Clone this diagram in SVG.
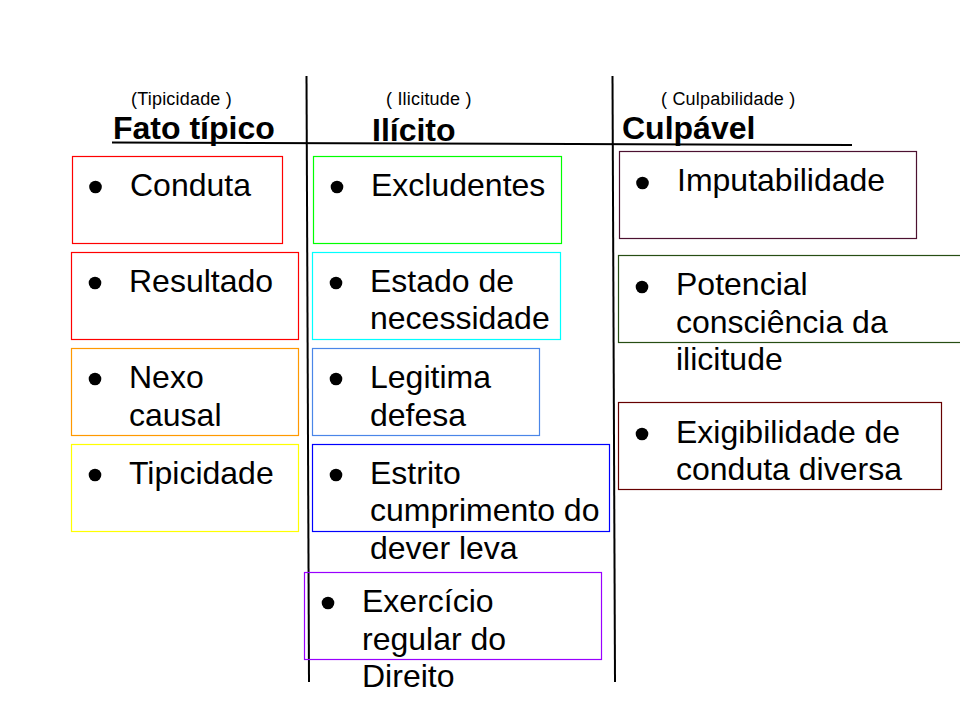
<svg xmlns="http://www.w3.org/2000/svg" width="960" height="720" viewBox="0 0 960 720">
<style>
.box{fill:none;stroke-width:1.2}
.t{font-family:"Liberation Sans",Arial,sans-serif;font-size:32px;fill:#000}
.h{font-family:"Liberation Sans",Arial,sans-serif;font-size:32px;font-weight:bold;fill:#000}
.s{font-family:"Liberation Sans",Arial,sans-serif;font-size:18px;letter-spacing:0.2px;fill:#000}
.b{fill:#000}
.ln{stroke:#000;stroke-width:2;fill:none}
</style>
<rect width="960" height="720" fill="#fff"/>
<g id="connectors">
<line class="ln" x1="306.5" y1="76" x2="309" y2="682"/>
<line class="ln" x1="612.5" y1="76" x2="615" y2="682"/>
<line class="ln" x1="112" y1="142.5" x2="852" y2="145"/>
</g>
<g id="header-fato">
<text class="s" x="131" y="105" xml:space="preserve">(Tipicidade )</text>
<text class="h" x="113" y="139">Fato típico</text>
</g>
<g id="header-ilicito">
<text class="s" x="386" y="105" xml:space="preserve">( Ilicitude )</text>
<text class="h" x="372" y="141">Ilícito</text>
</g>
<g id="header-culpavel">
<text class="s" x="661" y="105" xml:space="preserve">( Culpabilidade )</text>
<text class="h" x="622" y="139">Culpável</text>
</g>
<g id="conduta">
<rect class="box" x="72.5" y="156.5" width="210" height="87" stroke="#ff0000"/>
<circle class="b" cx="95.5" cy="187" r="6.3"/>
<text class="t" x="130" y="196">Conduta</text>
</g>
<g id="resultado">
<rect class="box" x="71.5" y="252.5" width="227" height="87" stroke="#ff0000"/>
<circle class="b" cx="95" cy="283" r="6.3"/>
<text class="t" x="129" y="292">Resultado</text>
</g>
<g id="nexo">
<rect class="box" x="71.5" y="348.5" width="227" height="87" stroke="#ff9900"/>
<circle class="b" cx="95" cy="379" r="6.3"/>
<text class="t" x="129" y="388">Nexo</text>
<text class="t" x="129" y="426">causal</text>
</g>
<g id="tipicidade">
<rect class="box" x="71.5" y="444.5" width="227" height="87" stroke="#ffff00"/>
<circle class="b" cx="95" cy="475" r="6.3"/>
<text class="t" x="129" y="484">Tipicidade</text>
</g>
<g id="excludentes">
<rect class="box" x="313.5" y="156.5" width="248" height="87" stroke="#00ff00"/>
<circle class="b" cx="337" cy="187" r="6.3"/>
<text class="t" x="371" y="196">Excludentes</text>
</g>
<g id="estado">
<rect class="box" x="312.5" y="252.5" width="248" height="87" stroke="#00ffff"/>
<circle class="b" cx="336" cy="283" r="6.3"/>
<text class="t" x="370" y="292">Estado de</text>
<text class="t" x="370" y="329">necessidade</text>
</g>
<g id="legitima">
<rect class="box" x="312.5" y="348.5" width="227" height="87" stroke="#4a86e8"/>
<circle class="b" cx="336" cy="379" r="6.3"/>
<text class="t" x="370" y="388">Legitima</text>
<text class="t" x="370" y="426">defesa</text>
</g>
<g id="estrito">
<rect class="box" x="312.5" y="444.5" width="297" height="87" stroke="#0000ff"/>
<circle class="b" cx="336" cy="475" r="6.3"/>
<text class="t" x="370" y="484">Estrito</text>
<text class="t" x="370" y="521">cumprimento do</text>
<text class="t" x="370" y="559">dever leva</text>
</g>
<g id="exercicio">
<rect class="box" x="304.5" y="572.5" width="297" height="87" stroke="#9900ff"/>
<circle class="b" cx="328" cy="603" r="6.3"/>
<text class="t" x="362" y="612">Exercício</text>
<text class="t" x="362" y="650">regular do</text>
<text class="t" x="362" y="687">Direito</text>
</g>
<g id="imputabilidade">
<rect class="box" x="619.5" y="151.5" width="297" height="87" stroke="#4c1130"/>
<circle class="b" cx="642.5" cy="183" r="6.3"/>
<text class="t" x="677" y="191">Imputabilidade</text>
</g>
<g id="potencial">
<rect class="box" x="618.5" y="255.5" width="360" height="87" stroke="#274e13"/>
<circle class="b" cx="642" cy="287" r="6.3"/>
<text class="t" x="676" y="295">Potencial</text>
<text class="t" x="676" y="333">consciência da</text>
<text class="t" x="676" y="370">ilicitude</text>
</g>
<g id="exigibilidade">
<rect class="box" x="618.5" y="402.5" width="323" height="87" stroke="#660000"/>
<circle class="b" cx="642" cy="434" r="6.3"/>
<text class="t" x="676" y="443">Exigibilidade de</text>
<text class="t" x="676" y="480">conduta diversa</text>
</g>
</svg>
